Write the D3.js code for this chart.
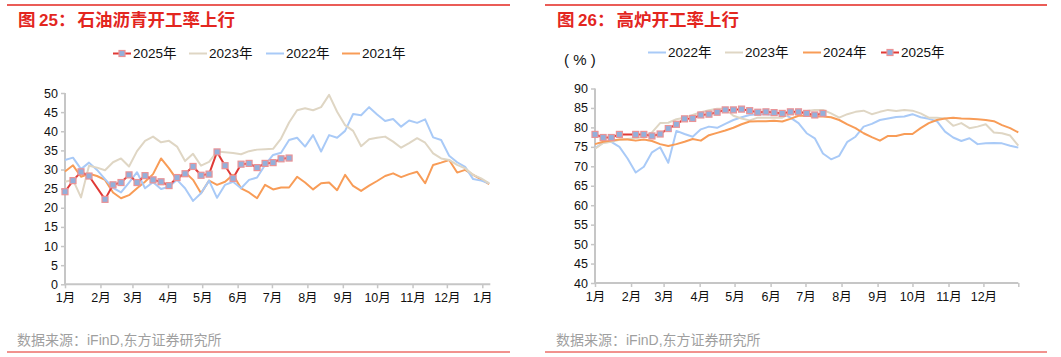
<!DOCTYPE html>
<html><head><meta charset="utf-8">
<script src="https://cdn.jsdelivr.net/npm/d3@7"></script>
<style>
html,body{margin:0;padding:0;background:#fff;}
svg{display:block;font-family:"Liberation Sans",Arial,"Noto Sans CJK SC",sans-serif;}
</style></head><body>
<svg id="c" width="1061" height="357"></svg>
<script>
// ---------- data ----------
const monthLabelsL = ["1月","2月","3月","4月","5月","6月","7月","8月","9月","10月","11月","12月","1月"];
const monthDaysL = [0,31,59,90,120,151,181,212,243,273,304,334,365];
const monthLabelsR = ["1月","2月","3月","4月","5月","6月","7月","8月","9月","10月","11月","12月",""];
const monthDaysR = [0,31,59,90,120,151,181,212,243,273,304,334,364];
const yTicksL = [0,5,10,15,20,25,30,35,40,45,50];
const yTicksR = [40,45,50,55,60,65,70,75,80,85,90];

// left: 石油沥青开工率 (%) weekly
const weeks2025 = [0,1,2,3,5,6,7,8,9,10,11,12,13,14,15,16,17,18,19,20,21,22,23,24,25,26,27,28];
const asphalt2025 = [24.2,27.1,29.4,28.3,22.2,26.0,26.6,28.6,26.6,28.4,27.3,26.8,25.8,27.9,28.9,30.8,28.5,28.8,34.6,31.0,27.7,31.4,31.6,30.5,31.6,31.8,32.8,33.0];
const asphalt2023 = [26.8,27.3,22.7,31.0,30.5,29.8,31.9,32.9,30.8,34.8,37.5,38.6,37.1,37.5,36.0,32.2,34.1,31.0,32.0,34.7,34.5,34.3,34.0,34.8,35.2,35.3,35.4,38.1,42.3,45.5,46.0,45.5,46.3,49.5,45.1,41.6,40.1,36.1,37.9,38.3,38.6,37.3,35.7,36.9,38.2,37.0,34.2,32.9,32.5,31.2,30.3,28.6,27.7,26.4];
const asphalt2022 = [32.5,33.1,30.1,31.8,29.9,27.5,25.2,24.0,26.6,29.3,25.1,26.7,24.9,25.5,27.3,25.1,21.8,23.8,27.1,22.6,26.0,26.8,25.1,27.3,27.9,31.2,33.8,34.4,37.7,38.3,36.0,39.0,34.7,39.0,38.3,40.1,44.5,44.2,46.3,44.4,42.7,43.2,41.2,42.8,42.2,43.1,38.4,37.7,33.6,31.9,30.7,27.5,27.1,26.4];
const asphalt2021 = [29.5,31.1,28.1,28.9,28.3,27.3,24.0,22.5,23.3,25.1,26.8,28.8,32.9,30.3,27.3,29.3,27.3,23.8,27.1,26.0,26.8,28.6,25.1,24.0,22.5,26.0,24.8,25.3,25.3,28.1,26.6,24.8,26.4,26.6,24.6,28.6,25.7,24.4,25.8,27.0,28.3,29.0,28.0,28.8,29.4,26.4,31.2,31.8,32.5,29.2,29.9,28.6,27.4,26.2];

// right: 高炉开工率 (%) weekly
const blast2025Weeks = [0,1,2,3,5,6,7,8,9,10,11,12,13,14,15,16,17,18,19,20,21,22,23,24,25,26,27,28];
const blast2025 = [78.2,77.4,77.4,78.2,78.2,78.2,77.8,78.3,79.7,80.8,82.2,82.3,83.2,83.4,83.9,84.5,84.5,84.7,84.3,83.9,84.0,83.8,83.6,84.0,84.0,83.6,83.2,83.6];
const blast2022 = [74.6,76.1,76.3,75.0,72.0,68.4,69.9,73.6,74.9,70.9,79.1,78.3,77.6,79.5,80.2,79.9,80.9,81.9,82.6,83.2,83.4,83.4,83.2,83.6,82.5,81.1,78.5,77.2,73.3,71.8,72.7,76.3,77.6,80.2,80.9,81.9,82.3,82.7,82.8,83.4,82.6,82.2,81.6,78.9,77.4,76.5,77.2,75.7,75.9,76.0,75.9,75.3,74.8];
const blast2023 = [74.5,76.0,76.3,76.8,77.0,77.2,77.6,78.7,81.1,81.2,82.1,82.5,83.2,83.9,84.4,84.8,84.8,83.0,82.3,81.8,82.5,82.5,82.5,82.5,83.6,83.6,84.2,84.5,84.5,83.6,82.5,83.4,84.0,84.3,83.4,84.0,84.5,84.2,84.5,84.3,83.6,82.5,82.5,82.3,80.4,81.1,79.8,80.2,80.8,78.7,78.5,77.9,75.3];
const blast2024 = [75.7,76.3,76.6,76.9,76.9,76.6,76.9,76.5,75.7,75.2,75.7,76.3,77.0,76.6,78.0,78.6,79.2,79.9,80.8,81.5,81.6,81.6,81.7,81.5,82.2,83.0,83.0,82.8,82.8,82.6,81.9,80.8,79.8,78.5,77.5,76.6,77.8,77.8,78.3,78.3,79.8,81.1,81.9,82.3,82.5,82.3,82.2,82.1,81.9,81.6,80.6,79.8,78.7];

// ---------- styles ----------
const C = {red:"#e3261f", line25:"#e03a36", mFill:"#93b0db", mStroke:"#ea9396",
           y23:"#dfd6c4", y22:"#a9caf7", y21:"#f89c57", axis:"#c6c6c6", src:"#9f9f9f"};
const svg = d3.select("#c");

function panel(o){
  const g = svg.append("g");
  g.append("line").attr("x1",o.rule[0]).attr("x2",o.rule[1]).attr("y1",5).attr("y2",5)
    .attr("stroke",C.red).attr("stroke-width",1.5);
  const t = g.append("text").attr("y",26).attr("fill",C.red)
    .attr("font-size",17.5).attr("font-weight","bold");
  t.append("tspan").attr("x",o.titleX).text("图");
  t.append("tspan").attr("x",o.titleX+21).attr("font-size",17).text(o.titleNo);
  t.append("tspan").attr("x",o.titleX+40).text("：");
  t.append("tspan").attr("x",o.titleX+59.5).text(o.title);
  g.append("line").attr("x1",o.rule[0]).attr("x2",o.rule[1]).attr("y1",352).attr("y2",352)
    .attr("stroke",C.red).attr("stroke-width",1);
  g.append("text").attr("x",o.srcX).attr("y",345).attr("fill",C.src)
    .attr("font-size",14).text("数据来源：iFinD,东方证券研究所");

  const x = d3.scaleLinear().domain(o.xDomain).range(o.xRange);
  const y = d3.scaleLinear().domain(o.yDomain).range(o.yRange);

  const ya = g.append("g").attr("transform",`translate(${o.xRange[0]},0)`)
    .call(d3.axisLeft(y).tickValues(o.yTicks).tickSize(4).tickPadding(3));
  const xa = g.append("g").attr("transform",`translate(0,${o.yRange[0]})`)
    .call(d3.axisBottom(x).tickValues(o.monthDays).tickFormat((d,i)=>o.monthLabels[i]).tickSize(4).tickPadding(5));
  [ya,xa].forEach(a=>{
    a.select(".domain").attr("stroke",C.axis).attr("stroke-width",2);
    a.selectAll(".tick line").attr("stroke",C.axis).attr("stroke-width",1.5);
    a.selectAll(".tick text").attr("fill","#111").attr("font-size",12.5)
      .attr("font-family",'"Liberation Sans",Arial,"Noto Sans CJK SC",sans-serif');
  });
  ya.select(".domain").attr("d",`M0,${o.yRange[0]}V${o.yRange[1]}`);
  xa.select(".domain").attr("d",`M${o.xRange[0]},0H${o.xRange[1]}`);

  const line = d3.line().x(d=>x(d[0]*7)).y(d=>y(d[1]));
  o.series.forEach(s=>{
    const pts = s.values.map((v,i)=>[s.weeks ? s.weeks[i] : i, v]);
    g.append("path").attr("d",line(pts)).attr("fill","none")
      .attr("stroke",s.color).attr("stroke-width",2).attr("stroke-linejoin","round");
    if(s.marker){
      g.selectAll(null).data(pts).enter().append("rect")
        .attr("x",d=>x(d[0]*7)-3).attr("y",d=>y(d[1])-3)
        .attr("width",6).attr("height",6)
        .attr("fill",C.mFill).attr("stroke",C.mStroke).attr("stroke-width",1.2);
    }
  });

  o.legend.forEach(l=>{
    const lg = g.append("g");
    lg.append("line").attr("x1",l.x).attr("x2",l.x+18).attr("y1",o.legY).attr("y2",o.legY)
      .attr("stroke",l.color).attr("stroke-width",2);
    if(l.marker){
      lg.append("rect").attr("x",l.x+9-3).attr("y",o.legY-3).attr("width",6).attr("height",6)
        .attr("fill",C.mFill).attr("stroke",C.mStroke).attr("stroke-width",1.2);
    }
    lg.append("text").attr("x",l.x+20).attr("y",o.legY+4.5).attr("font-size",13.5).attr("fill","#111").text(l.label);
  });
  if(o.unit){
    g.append("text").attr("x",o.unit[0]).attr("y",o.unit[1]).attr("font-size",15)
      .attr("fill","#111").attr("xml:space","preserve").style("white-space","pre").text("( % )");
  }
}

panel({
  rule:[7,510], titleNo:"25", title:"石油沥青开工率上行", titleX:18, srcX:17,
  xDomain:[0,372], xRange:[65,490.3], yDomain:[0,50], yRange:[284.3,93],
  yTicks:yTicksL, monthDays:monthDaysL, monthLabels:monthLabelsL,
  series:[
    {values:asphalt2021,color:C.y21},
    {values:asphalt2022,color:C.y22},
    {values:asphalt2023,color:C.y23},
    {values:asphalt2025,weeks:weeks2025,color:C.line25,marker:true}
  ],
  legY:53.5,
  legend:[
    {x:113,label:"2025年",color:C.line25,marker:true},
    {x:189,label:"2023年",color:C.y23},
    {x:266,label:"2022年",color:C.y22},
    {x:342,label:"2021年",color:C.y21}
  ]
});

panel({
  rule:[545,1047], titleNo:"26", title:"高炉开工率上行", titleX:557, srcX:556,
  xDomain:[0,364], xRange:[595,1018.3], yDomain:[40,90], yRange:[283,88.5],
  yTicks:yTicksR, monthDays:monthDaysR, monthLabels:monthLabelsR,
  series:[
    {values:blast2022,color:C.y22},
    {values:blast2023,color:C.y23},
    {values:blast2024,color:C.y21},
    {values:blast2025,weeks:blast2025Weeks,color:C.line25,marker:true}
  ],
  legY:52.5, unit:[564,65],
  legend:[
    {x:648,label:"2022年",color:C.y22},
    {x:725,label:"2023年",color:C.y23},
    {x:803,label:"2024年",color:C.y21},
    {x:881,label:"2025年",color:C.line25,marker:true}
  ]
});
</script>
</body></html>
